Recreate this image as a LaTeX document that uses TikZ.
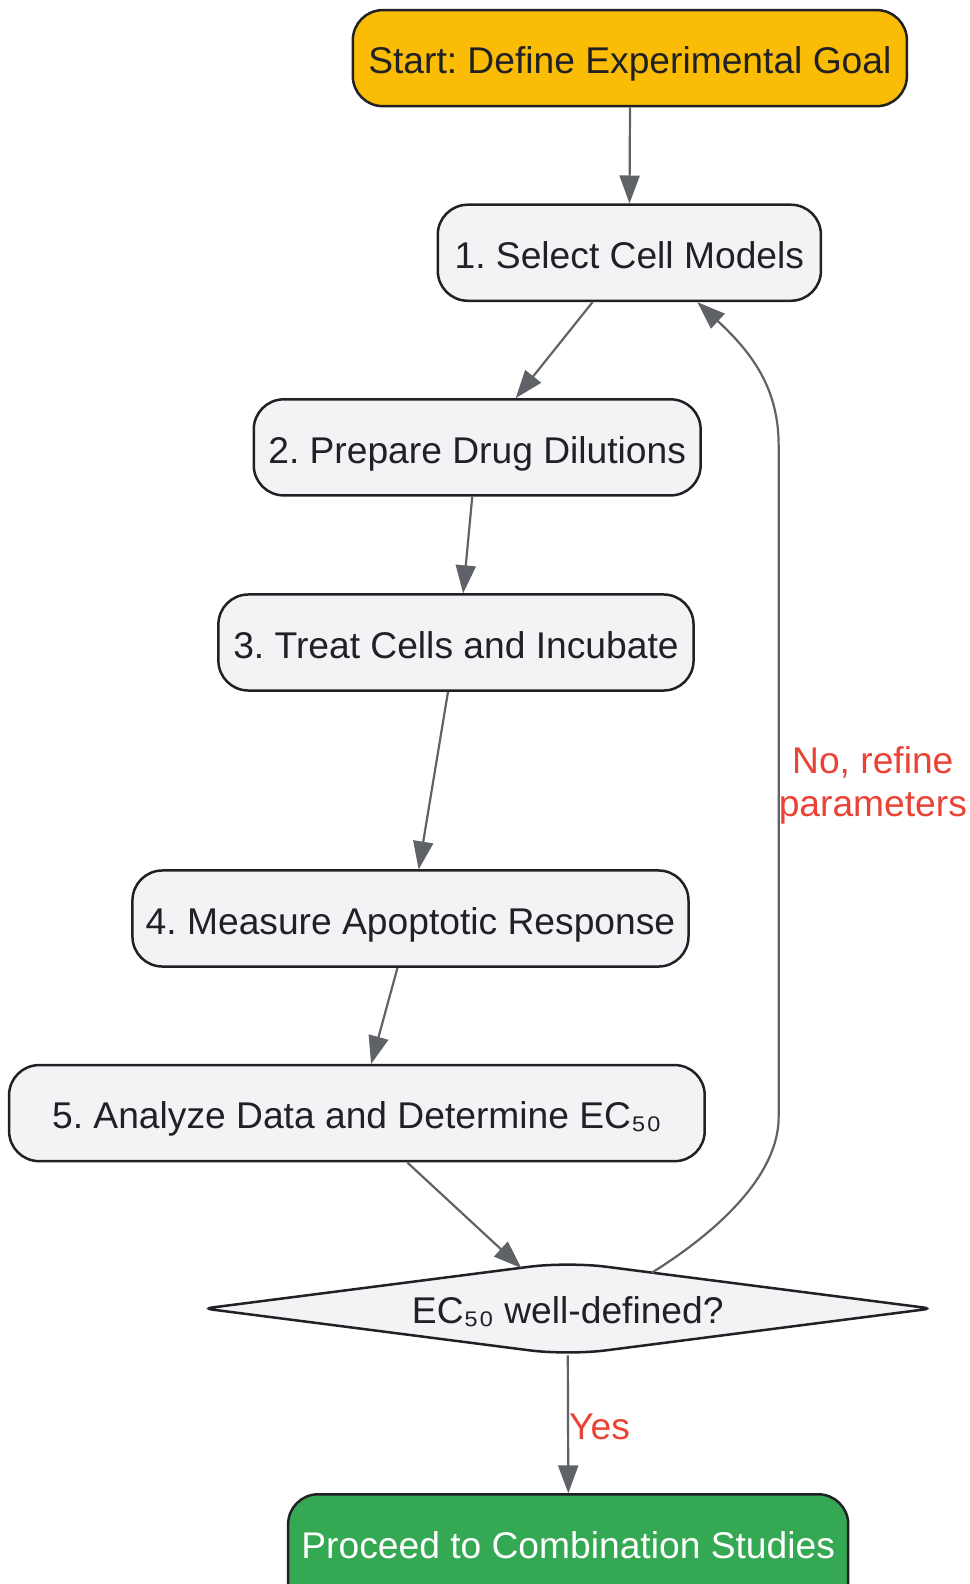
\documentclass[tikz,border=0pt]{standalone}
\usepackage{fontspec}
\setmainfont{Liberation Sans}
\usetikzlibrary{arrows.meta,shapes.geometric,calc}
\definecolor{gold}{HTML}{FBBC05}
\definecolor{okgreen}{HTML}{34A853}
\definecolor{boxfill}{HTML}{F1F3F4}
\definecolor{strokedark}{HTML}{202124}
\definecolor{edgegray}{HTML}{5F6368}
\definecolor{labelred}{HTML}{EA4335}
\tikzset{
  box/.style={draw=strokedark, line width=2.5pt, rounded corners=30pt, fill=boxfill,
    text=strokedark, minimum height=95pt, inner sep=0pt, text height=31pt, text depth=0pt},
  conn/.style={draw=edgegray, line width=2.2pt, -{Triangle[length=28pt,width=20pt]}},
  elabel/.style={text=labelred, inner sep=0pt, align=center}
}
\frenchspacing
\begin{document}
\begin{tikzpicture}[x=1pt,y=-1pt,font=\fontsize{36.8}{42}\selectfont\frenchspacing]
\useasboundingbox (0,0) rectangle (969,1584);
\clip (0,0) rectangle (969,1584);
\begin{scope}[scale=1.011, transform shape]
\node[box, fill=gold, minimum width=548pt] (s) at (623,57.5) {Start: Define Experimental Goal};
\node[box, minimum width=379pt] (n1) at (622.5,250) {1. Select Cell Models};
\node[box, minimum width=442pt] (n2) at (472,442.5) {2. Prepare Drug Dilutions};
\node[box, minimum width=470pt] (n3) at (451,635.5) {3. Treat Cells and Incubate};
\node[box, minimum width=550pt] (n4) at (406,908.5) {4. Measure Apoptotic Response};
\node[box, minimum width=688pt] (n5) at (353,1101) {5. Analyze Data and Determine EC₅₀};
\node[diamond, draw=none, inner sep=0pt, minimum width=719pt, minimum height=92pt,
  aspect=7.8] (d) at (561.5,1294) {};
\draw[draw=strokedark, fill=boxfill, line width=2.5pt]
  ($(d.west)!.5!(d.north)$) [rounded corners=38pt] -- (d.north) [rounded corners=8pt] -- (d.east)
  [rounded corners=38pt] -- (d.south) [rounded corners=8pt] -- (d.west) -- cycle;
\node[text=strokedark, inner sep=0pt, text height=30pt, text depth=0pt] at (d.center) {EC₅₀ well-defined?};
\node[box, fill=okgreen, text=white, minimum width=554pt, text height=64pt, text depth=54pt]
  (f) at (562,1537) {Proceed to Combination Studies};

\draw[conn] (s.south) -- (n1.north);
\draw[conn] ([xshift=-36.5pt]n1.south) -- ([xshift=38pt]n2.north);
\draw[conn] ([xshift=-5pt]n2.south) -- ([xshift=7pt]n3.north);
\draw[conn] ([xshift=-8pt]n3.south) -- ([xshift=8pt]n4.north);
\draw[conn] ([xshift=-13pt]n4.south) -- ([xshift=14pt]n5.north);
\coordinate (dIn) at ($(d.west)!.872!(d.north)$);
\draw[conn] ([xshift=50pt]n5.south) -- (dIn);
\draw[conn] (d.south) -- node[elabel, anchor=west, yshift=-3pt] {Yes} (f.north);
\coordinate (dOut) at ($(d.north)!.23!(d.east)$);
\coordinate (n1In) at ([xshift=67pt]n1.south);
\coordinate (loopLow) at (770,1105);
\coordinate (loopHigh) at (770,440);
\draw[conn] (dOut) .. controls (715,1215) and (770,1160) .. (loopLow)
  -- node[elabel, anchor=west, xshift=-1pt, yshift=-4pt] {No, refine\\parameters} (loopHigh)
  .. controls (770,385) and (745,350) .. (n1In);
\end{scope}
\end{tikzpicture}
\end{document}
